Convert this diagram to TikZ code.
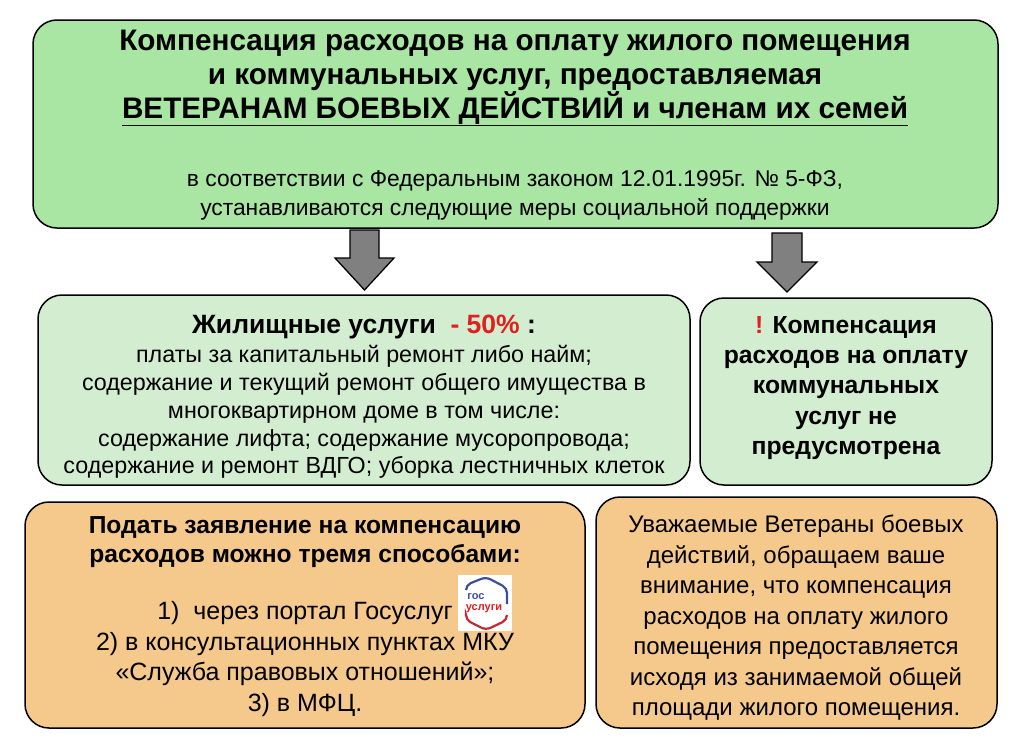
\documentclass[tikz,border=0pt]{standalone}
\usepackage{fontspec}
\setmainfont{Liberation Sans}
\usetikzlibrary{shapes.geometric}
\definecolor{gtop}{HTML}{A9E5A3}
\definecolor{gmid}{HTML}{D3EDD0}
\definecolor{org}{HTML}{F5C88C}
\definecolor{arr}{HTML}{808080}
\definecolor{redx}{HTML}{E02020}
\definecolor{gbl}{HTML}{3A4FA0}
\begin{document}
\begin{tikzpicture}[x=1pt,y=-1pt,
  box/.style={draw=black,line width=1.5pt,rounded corners=24pt},
  txt/.style={align=center,inner sep=0pt,font=\fontsize{23.3}{27.8}\selectfont},
  arrw/.style={fill=arr,draw=black,line width=1.3pt}]
\useasboundingbox (0,0) rectangle (1024,747);
\fill[white] (0,0) rectangle (1024,747);
\draw[box,fill=gtop] (33,20) rectangle (998,228);
\draw[box,fill=gmid] (38,295) rectangle (690,485);
\draw[box,fill=gmid] (700,298) rectangle (992,485);
\draw[box,fill=org] (25,502) rectangle (585,728);
\draw[box,fill=org] (596,497) rectangle (997,728);
\draw[arrw] (350,230)--(379,230)--(379,258)--(394,258)--(364.5,290)--(335,258)--(350,258)--cycle;
\draw[arrw] (772,233)--(802,233)--(802,262)--(817,262)--(787,292)--(757,262)--(772,262)--cycle;
\node[txt,font=\bfseries\fontsize{29.7}{34}\selectfont] (title) at (515,78) {Компенсация расходов на оплату жилого помещения\\и коммунальных услуг, предоставляемая\\\underline{ВЕТЕРАНАМ БОЕВЫХ ДЕЙСТВИЙ и членам их семей}};
\node[txt,font=\fontsize{22.8}{29}\selectfont] (law) at (515,195) {в соответствии с Федеральным законом 12.01.1995г. № 5-ФЗ,\\устанавливаются следующие меры социальной поддержки};
\node[txt,font=\bfseries\fontsize{26.5}{28}\selectfont] (hh) at (364,327) {Жилищные услуги \ \textcolor{redx}{- 50\%} :};
\node[txt] (hl) at (364,412) {платы за капитальный ремонт либо найм;\\содержание и текущий ремонт общего имущества в\\многоквартирном доме в том числе:\\содержание лифта; содержание мусоропровода;\\содержание и ремонт ВДГО; уборка лестничных клеток};
\node[txt,font=\bfseries\fontsize{24.7}{30.3}\selectfont] (comp) at (846,388) {\textcolor{redx}{!} Компенсация\\расходов на оплату\\коммунальных\\услуг не\\предусмотрена};
\node[txt,font=\bfseries\fontsize{24.6}{29}\selectfont] (how) at (305,542) {Подать заявление на компенсацию\\расходов можно тремя способами:};
\node[txt,font=\fontsize{25}{30.7}\selectfont] (ways) at (305,659) {1) \ через портал Госуслуг\hspace{62pt}\\2) в консультационных пунктах МКУ\\«Служба правовых отношений»;\\3) в МФЦ.};
\node[draw=none,fill=white,minimum width=54pt,minimum height=56pt,inner sep=0pt] (icon) at (485,603) {};
\draw[line width=2.2pt,gbl,rounded corners=5pt] (466,590)--(466,585)--(486,577)--(507,588)--(507,604);
\draw[line width=2.2pt,redx!85!gbl,rounded corners=5pt] (507,615)--(507,620)--(486,630)--(466,620)--(466,616);
\node[inner sep=0pt,font=\bfseries\fontsize{11}{11}\selectfont,text=gbl] (gt) at (476,597) {гос};
\node[inner sep=0pt,font=\bfseries\fontsize{11}{11}\selectfont,text=redx] (gu) at (484,609) {услуги};
\node[txt,font=\fontsize{24}{30.5}\selectfont] (vet) at (796,618) {Уважаемые Ветераны боевых\\действий, обращаем ваше\\внимание, что компенсация\\расходов на оплату жилого\\помещения предоставляется\\исходя из занимаемой общей\\площади жилого помещения.};
\end{tikzpicture}
\end{document}
